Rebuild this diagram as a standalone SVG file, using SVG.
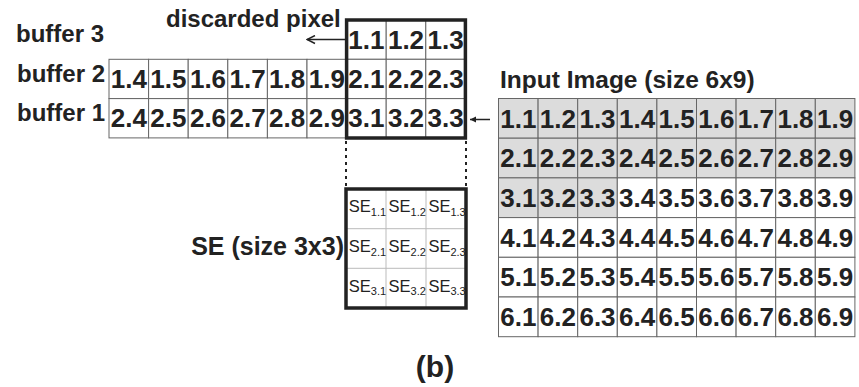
<svg xmlns="http://www.w3.org/2000/svg" width="859" height="387" viewBox="0 0 859 387">
<style>
text{font-family:"Liberation Sans",Arial,sans-serif;fill:#222}
.lbl{font-size:24px;font-weight:bold}
.num{font-size:26px;font-weight:bold;text-anchor:middle}
.cell{fill:#fff;stroke:#666;stroke-width:1}
.g{fill:#dcdcdc}
.thick{fill:none;stroke:#222;stroke-width:3.5}
.se{font-size:16.5px}
.sub{font-size:11px}
.sel{stroke:#bbb;stroke-width:1}
.conn{stroke:#222;stroke-width:1.5;fill:none}
.dot{stroke:#222;stroke-width:2;stroke-dasharray:3 4;fill:none}
</style>
<defs>
<marker id="openv" markerWidth="10" markerHeight="10" refX="9" refY="5" orient="auto" markerUnits="userSpaceOnUse">
<path d="M1,1 L9,5 L1,9" fill="none" stroke="#222" stroke-width="1.5"/>
</marker>
<marker id="fill" markerWidth="8" markerHeight="8" refX="7" refY="4" orient="auto" markerUnits="userSpaceOnUse">
<path d="M1,1 L7,4 L1,7 Z" fill="#222"/>
</marker>
</defs>
<rect width="859" height="387" fill="#fff"/>

<g id="buffer-labels">
<text class="lbl" x="104" y="42" text-anchor="end">buffer 3</text>
<text class="lbl" x="105" y="82" text-anchor="end">buffer 2</text>
<text class="lbl" x="105" y="121" text-anchor="end">buffer 1</text>
<text class="lbl" x="166" y="27">discarded pixel</text>
</g>

<g id="buffers">
<g>
<rect class="cell" x="346.6" y="20" width="39.6" height="39.3"/>
<rect class="cell" x="386.2" y="20" width="39.6" height="39.3"/>
<rect class="cell" x="425.8" y="20" width="39.6" height="39.3"/>
<rect class="cell" x="109" y="59.3" width="39.6" height="39.3"/>
<rect class="cell" x="148.6" y="59.3" width="39.6" height="39.3"/>
<rect class="cell" x="188.2" y="59.3" width="39.6" height="39.3"/>
<rect class="cell" x="227.8" y="59.3" width="39.6" height="39.3"/>
<rect class="cell" x="267.4" y="59.3" width="39.6" height="39.3"/>
<rect class="cell" x="307" y="59.3" width="39.6" height="39.3"/>
<rect class="cell" x="346.6" y="59.3" width="39.6" height="39.3"/>
<rect class="cell" x="386.2" y="59.3" width="39.6" height="39.3"/>
<rect class="cell" x="425.8" y="59.3" width="39.6" height="39.3"/>
<rect class="cell" x="109" y="98.6" width="39.6" height="39.3"/>
<rect class="cell" x="148.6" y="98.6" width="39.6" height="39.3"/>
<rect class="cell" x="188.2" y="98.6" width="39.6" height="39.3"/>
<rect class="cell" x="227.8" y="98.6" width="39.6" height="39.3"/>
<rect class="cell" x="267.4" y="98.6" width="39.6" height="39.3"/>
<rect class="cell" x="307" y="98.6" width="39.6" height="39.3"/>
<rect class="cell" x="346.6" y="98.6" width="39.6" height="39.3"/>
<rect class="cell" x="386.2" y="98.6" width="39.6" height="39.3"/>
<rect class="cell" x="425.8" y="98.6" width="39.6" height="39.3"/>
</g>
<g>
<text class="num" x="366.4" y="48.8">1.1</text>
<text class="num" x="406" y="48.8">1.2</text>
<text class="num" x="445.6" y="48.8">1.3</text>
<text class="num" x="128.8" y="88.1">1.4</text>
<text class="num" x="168.4" y="88.1">1.5</text>
<text class="num" x="208" y="88.1">1.6</text>
<text class="num" x="247.6" y="88.1">1.7</text>
<text class="num" x="287.2" y="88.1">1.8</text>
<text class="num" x="326.8" y="88.1">1.9</text>
<text class="num" x="366.4" y="88.1">2.1</text>
<text class="num" x="406" y="88.1">2.2</text>
<text class="num" x="445.6" y="88.1">2.3</text>
<text class="num" x="128.8" y="127.4">2.4</text>
<text class="num" x="168.4" y="127.4">2.5</text>
<text class="num" x="208" y="127.4">2.6</text>
<text class="num" x="247.6" y="127.4">2.7</text>
<text class="num" x="287.2" y="127.4">2.8</text>
<text class="num" x="326.8" y="127.4">2.9</text>
<text class="num" x="366.4" y="127.4">3.1</text>
<text class="num" x="406" y="127.4">3.2</text>
<text class="num" x="445.6" y="127.4">3.3</text>
</g>
<rect class="thick" x="346.6" y="20" width="118.8" height="118"/>
</g>

<g id="se">
<rect x="346" y="189" width="120" height="119" fill="#fff"/>
<line class="sel" x1="386" y1="189" x2="386" y2="308"/>
<line class="sel" x1="426" y1="189" x2="426" y2="308"/>
<line class="sel" x1="346" y1="228.7" x2="466" y2="228.7"/>
<line class="sel" x1="346" y1="268.3" x2="466" y2="268.3"/>
<text class="se" x="348.8" y="212.3">SE<tspan class="sub" dy="3.5">1.1</tspan></text>
<text class="se" x="388.6" y="212.3">SE<tspan class="sub" dy="3.5">1.2</tspan></text>
<text class="se" x="428.4" y="212.3">SE<tspan class="sub" dy="3.5">1.3</tspan></text>
<text class="se" x="348.8" y="252">SE<tspan class="sub" dy="3.5">2.1</tspan></text>
<text class="se" x="388.6" y="252">SE<tspan class="sub" dy="3.5">2.2</tspan></text>
<text class="se" x="428.4" y="252">SE<tspan class="sub" dy="3.5">2.3</tspan></text>
<text class="se" x="348.8" y="291.7">SE<tspan class="sub" dy="3.5">3.1</tspan></text>
<text class="se" x="388.6" y="291.7">SE<tspan class="sub" dy="3.5">3.2</tspan></text>
<text class="se" x="428.4" y="291.7">SE<tspan class="sub" dy="3.5">3.3</tspan></text>
<rect class="thick" x="346" y="189" width="120" height="119"/>
<text class="lbl" x="344" y="255" text-anchor="end" style="font-size:25px">SE (size 3x3)</text>
</g>

<g id="input-image">
<text class="lbl" x="500" y="88" style="font-size:24.5px">Input Image (size 6x9)</text>
<g>
<rect class="cell g" x="498.5" y="98.5" width="39.6" height="39.7"/>
<rect class="cell g" x="538.1" y="98.5" width="39.6" height="39.7"/>
<rect class="cell g" x="577.7" y="98.5" width="39.6" height="39.7"/>
<rect class="cell g" x="617.3" y="98.5" width="39.6" height="39.7"/>
<rect class="cell g" x="656.9" y="98.5" width="39.6" height="39.7"/>
<rect class="cell g" x="696.5" y="98.5" width="39.6" height="39.7"/>
<rect class="cell g" x="736.1" y="98.5" width="39.6" height="39.7"/>
<rect class="cell g" x="775.7" y="98.5" width="39.6" height="39.7"/>
<rect class="cell g" x="815.3" y="98.5" width="39.6" height="39.7"/>
<rect class="cell g" x="498.5" y="138.2" width="39.6" height="39.7"/>
<rect class="cell g" x="538.1" y="138.2" width="39.6" height="39.7"/>
<rect class="cell g" x="577.7" y="138.2" width="39.6" height="39.7"/>
<rect class="cell g" x="617.3" y="138.2" width="39.6" height="39.7"/>
<rect class="cell g" x="656.9" y="138.2" width="39.6" height="39.7"/>
<rect class="cell g" x="696.5" y="138.2" width="39.6" height="39.7"/>
<rect class="cell g" x="736.1" y="138.2" width="39.6" height="39.7"/>
<rect class="cell g" x="775.7" y="138.2" width="39.6" height="39.7"/>
<rect class="cell g" x="815.3" y="138.2" width="39.6" height="39.7"/>
<rect class="cell g" x="498.5" y="177.9" width="39.6" height="39.7"/>
<rect class="cell g" x="538.1" y="177.9" width="39.6" height="39.7"/>
<rect class="cell g" x="577.7" y="177.9" width="39.6" height="39.7"/>
<rect class="cell" x="617.3" y="177.9" width="39.6" height="39.7"/>
<rect class="cell" x="656.9" y="177.9" width="39.6" height="39.7"/>
<rect class="cell" x="696.5" y="177.9" width="39.6" height="39.7"/>
<rect class="cell" x="736.1" y="177.9" width="39.6" height="39.7"/>
<rect class="cell" x="775.7" y="177.9" width="39.6" height="39.7"/>
<rect class="cell" x="815.3" y="177.9" width="39.6" height="39.7"/>
<rect class="cell" x="498.5" y="217.6" width="39.6" height="39.7"/>
<rect class="cell" x="538.1" y="217.6" width="39.6" height="39.7"/>
<rect class="cell" x="577.7" y="217.6" width="39.6" height="39.7"/>
<rect class="cell" x="617.3" y="217.6" width="39.6" height="39.7"/>
<rect class="cell" x="656.9" y="217.6" width="39.6" height="39.7"/>
<rect class="cell" x="696.5" y="217.6" width="39.6" height="39.7"/>
<rect class="cell" x="736.1" y="217.6" width="39.6" height="39.7"/>
<rect class="cell" x="775.7" y="217.6" width="39.6" height="39.7"/>
<rect class="cell" x="815.3" y="217.6" width="39.6" height="39.7"/>
<rect class="cell" x="498.5" y="257.3" width="39.6" height="39.7"/>
<rect class="cell" x="538.1" y="257.3" width="39.6" height="39.7"/>
<rect class="cell" x="577.7" y="257.3" width="39.6" height="39.7"/>
<rect class="cell" x="617.3" y="257.3" width="39.6" height="39.7"/>
<rect class="cell" x="656.9" y="257.3" width="39.6" height="39.7"/>
<rect class="cell" x="696.5" y="257.3" width="39.6" height="39.7"/>
<rect class="cell" x="736.1" y="257.3" width="39.6" height="39.7"/>
<rect class="cell" x="775.7" y="257.3" width="39.6" height="39.7"/>
<rect class="cell" x="815.3" y="257.3" width="39.6" height="39.7"/>
<rect class="cell" x="498.5" y="297" width="39.6" height="39.7"/>
<rect class="cell" x="538.1" y="297" width="39.6" height="39.7"/>
<rect class="cell" x="577.7" y="297" width="39.6" height="39.7"/>
<rect class="cell" x="617.3" y="297" width="39.6" height="39.7"/>
<rect class="cell" x="656.9" y="297" width="39.6" height="39.7"/>
<rect class="cell" x="696.5" y="297" width="39.6" height="39.7"/>
<rect class="cell" x="736.1" y="297" width="39.6" height="39.7"/>
<rect class="cell" x="775.7" y="297" width="39.6" height="39.7"/>
<rect class="cell" x="815.3" y="297" width="39.6" height="39.7"/>
</g>
<g>
<text class="num" x="518.3" y="127.6">1.1</text><text class="num" x="557.9" y="127.6">1.2</text><text class="num" x="597.5" y="127.6">1.3</text><text class="num" x="637.1" y="127.6">1.4</text><text class="num" x="676.7" y="127.6">1.5</text><text class="num" x="716.3" y="127.6">1.6</text><text class="num" x="755.9" y="127.6">1.7</text><text class="num" x="795.5" y="127.6">1.8</text><text class="num" x="835.1" y="127.6">1.9</text>
<text class="num" x="518.3" y="167.3">2.1</text><text class="num" x="557.9" y="167.3">2.2</text><text class="num" x="597.5" y="167.3">2.3</text><text class="num" x="637.1" y="167.3">2.4</text><text class="num" x="676.7" y="167.3">2.5</text><text class="num" x="716.3" y="167.3">2.6</text><text class="num" x="755.9" y="167.3">2.7</text><text class="num" x="795.5" y="167.3">2.8</text><text class="num" x="835.1" y="167.3">2.9</text>
<text class="num" x="518.3" y="207">3.1</text><text class="num" x="557.9" y="207">3.2</text><text class="num" x="597.5" y="207">3.3</text><text class="num" x="637.1" y="207">3.4</text><text class="num" x="676.7" y="207">3.5</text><text class="num" x="716.3" y="207">3.6</text><text class="num" x="755.9" y="207">3.7</text><text class="num" x="795.5" y="207">3.8</text><text class="num" x="835.1" y="207">3.9</text>
<text class="num" x="518.3" y="246.7">4.1</text><text class="num" x="557.9" y="246.7">4.2</text><text class="num" x="597.5" y="246.7">4.3</text><text class="num" x="637.1" y="246.7">4.4</text><text class="num" x="676.7" y="246.7">4.5</text><text class="num" x="716.3" y="246.7">4.6</text><text class="num" x="755.9" y="246.7">4.7</text><text class="num" x="795.5" y="246.7">4.8</text><text class="num" x="835.1" y="246.7">4.9</text>
<text class="num" x="518.3" y="286.4">5.1</text><text class="num" x="557.9" y="286.4">5.2</text><text class="num" x="597.5" y="286.4">5.3</text><text class="num" x="637.1" y="286.4">5.4</text><text class="num" x="676.7" y="286.4">5.5</text><text class="num" x="716.3" y="286.4">5.6</text><text class="num" x="755.9" y="286.4">5.7</text><text class="num" x="795.5" y="286.4">5.8</text><text class="num" x="835.1" y="286.4">5.9</text>
<text class="num" x="518.3" y="326.1">6.1</text><text class="num" x="557.9" y="326.1">6.2</text><text class="num" x="597.5" y="326.1">6.3</text><text class="num" x="637.1" y="326.1">6.4</text><text class="num" x="676.7" y="326.1">6.5</text><text class="num" x="716.3" y="326.1">6.6</text><text class="num" x="755.9" y="326.1">6.7</text><text class="num" x="795.5" y="326.1">6.8</text><text class="num" x="835.1" y="326.1">6.9</text>
</g>
</g>

<g id="caption">
<text x="435" y="377" text-anchor="middle" style="font-size:30px;font-weight:bold">(b)</text>
</g>

<g id="connectors">
<line class="conn" x1="345" y1="39.5" x2="307" y2="39.5" marker-end="url(#openv)"/>
<line class="conn" x1="490" y1="119.5" x2="470" y2="119.5" marker-end="url(#fill)"/>
<line class="dot" x1="346" y1="141" x2="346" y2="187"/>
<line class="dot" x1="466" y1="141" x2="466" y2="187"/>
</g>
</svg>
